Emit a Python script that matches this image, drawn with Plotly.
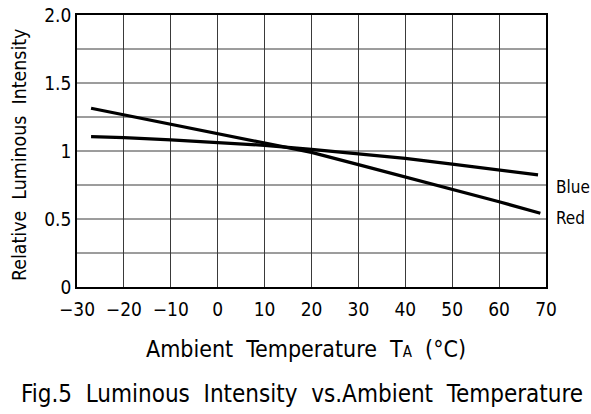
import plotly.graph_objects as go

# Data
red_x = [-27, -20, -10, 0, 10, 20, 30, 40, 50, 60, 68.8]
red_y = [1.314, 1.265, 1.20, 1.13, 1.06, 0.99, 0.90, 0.81, 0.718, 0.627, 0.542]
blue_x = [-27, -20, -10, 0, 10, 20, 30, 40, 50, 60, 68.3]
blue_y = [1.105, 1.098, 1.082, 1.062, 1.042, 1.012, 0.978, 0.946, 0.904, 0.862, 0.824]
series_names = ["Blue", "Red"]
label_y = [0.735, 0.507]

x_ticks = [-30, -20, -10, 0, 10, 20, 30, 40, 50, 60, 70]
x_tick_labels = ["\u221230", "\u221220", "\u221210", "0", "10", "20", "30", "40", "50", "60", "70"]
y_ticks = [0, 0.5, 1, 1.5, 2.0]
y_tick_labels = ["0", "0.5", "1", "1.5", "2.0"]
y_grid = [0.25, 0.5, 0.75, 1.0, 1.25, 1.5, 1.75]

FONT = "DejaVu Sans Condensed, Liberation Sans Narrow, sans-serif"
GRID = "#3a3a3a"

fig = go.Figure()
fig.add_trace(go.Scatter(x=red_x, y=red_y, mode="lines", line=dict(color="black", width=3.2), showlegend=False))
fig.add_trace(go.Scatter(x=blue_x, y=blue_y, mode="lines", line=dict(color="black", width=3.2), showlegend=False))

for name, ly in zip(series_names, label_y):
    fig.add_annotation(x=1, xref="paper", y=ly, yref="y", text=name, showarrow=False,
                       xanchor="left", xshift=8, font=dict(family=FONT, size=17, color="black"))

# horizontal grid lines every 0.25
for g in y_grid:
    fig.add_shape(type="line", xref="paper", x0=0, x1=1, yref="y", y0=g, y1=g,
                  line=dict(color=GRID, width=1), layer="below")

# axis titles and figure caption
fig.add_annotation(x=0.489, xref="paper", y=-0.228, yref="paper", yanchor="middle", xanchor="center",
                   text="Ambient  Temperature  T<span style='font-size:15px'>A</span>  (\u00b0C)",
                   showarrow=False, font=dict(family=FONT, size=23, color="black"))
fig.add_annotation(x=0, xref="paper", xshift=-58, y=0.485, yref="paper", yanchor="middle", xanchor="center",
                   text="Relative  Luminous  Intensity", textangle=-90,
                   showarrow=False, font=dict(family=FONT, size=19.4, color="black"))
fig.add_annotation(x=0.479, xref="paper", y=-0.393, yref="paper", yanchor="middle", xanchor="center",
                   text="Fig.5  Luminous  Intensity  vs.Ambient  Temperature",
                   showarrow=False, font=dict(family=FONT, size=24, color="black"))

fig.update_layout(
    width=591, height=414,
    margin=dict(l=77, r=45, t=15, b=127),
    plot_bgcolor="white", paper_bgcolor="white",
    font=dict(family=FONT, color="black", size=18),
    xaxis=dict(range=[-30, 70], tickvals=x_ticks, ticktext=x_tick_labels,
               showgrid=True, gridcolor=GRID, gridwidth=1,
               showline=True, linecolor="black", linewidth=1.5, mirror=True,
               ticks="", zeroline=False, tickfont=dict(size=19), automargin=False,
               ticklabelstandoff=4),
    yaxis=dict(range=[0, 2.0], tickvals=y_ticks, ticktext=y_tick_labels,
               showgrid=False,
               showline=True, linecolor="black", linewidth=1.5, mirror=True,
               ticks="", zeroline=False, tickfont=dict(size=19), automargin=False),
)

fig.write_html("out.html")
